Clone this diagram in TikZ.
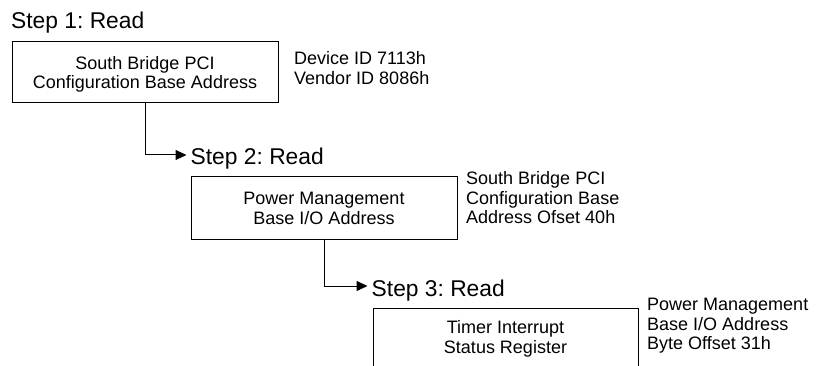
\documentclass[tikz,border=0pt]{standalone}
\usepackage{fontspec}
\setmainfont{Liberation Sans}
\usetikzlibrary{arrows.meta}
\newcommand{\tstrutA}{\rule{0pt}{17.9pt}}
\newcommand{\bstrutA}{\rule[-5pt]{0pt}{5pt}}
\begin{document}
\frenchspacing
\begin{tikzpicture}[x=1pt,y=-1pt,
  box/.style={draw, line width=1pt, minimum width=266pt, inner sep=0pt, align=center, font=\fontsize{18}{19.5}\selectfont},
  note/.style={anchor=base west, inner sep=0pt, align=left, font=\fontsize{18}{19.5}\selectfont},
  steplabel/.style={anchor=base west, inner sep=0pt, font=\fontsize{22.8}{26}\selectfont},
  conn/.style={line width=1pt, -{Triangle[length=11pt,width=10pt]}}]
\useasboundingbox (0,0) rectangle (816,366);
\clip (0,0) rectangle (816,366);
\node[steplabel] (step1) at (11,29) {Step 1: Read};
\node[box, minimum height=61pt] (box1) at (145,72.5) {\tstrutA South Bridge PCI\\Configuration Base Address\bstrutA};
\node[note] (note1) at (294,84.3) {Device ID 7113h\\Vendor ID 8086h};
\node[steplabel] (step2) at (190.5,165) {Step 2: Read};
\node[box, minimum height=62pt] (box2) at (324,208) {\tstrutA Power Management\\Base I/O Address\bstrutA};
\node[note] (note2) at (466,223.5) {South Bridge PCI\\Configuration Base\\Address Ofset 40h};
\node[steplabel] (step3) at (371.5,296) {Step 3: Read};
\node[box, minimum width=265pt, minimum height=62pt] (box3) at (505.5,339) {Timer Interrupt\\Status Register};
\node[note] (note3) at (647,349.5) {Power Management\\Base I/O Address\\Byte Offset 31h};
\draw[conn] (box1.south) |- ([xshift=-4pt,yshift=10pt]step2.base west);
\draw[conn] (box2.south) |- ([xshift=-4pt,yshift=10pt]step3.base west);
\end{tikzpicture}
\end{document}
